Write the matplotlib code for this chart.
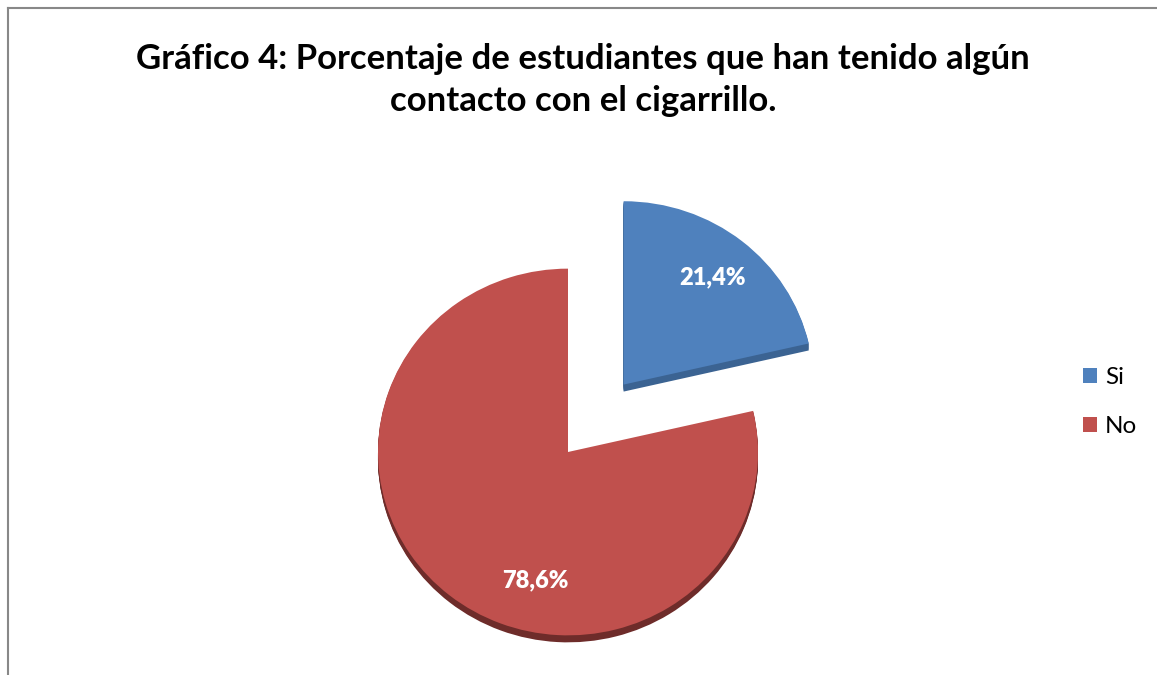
import matplotlib
matplotlib.use("Agg")
import matplotlib.pyplot as plt
import numpy as np

categories = ["Si", "No"]
values = [21.4, 78.6]
title = "Gráfico 4: Porcentaje de estudiantes que han tenido algún\ncontacto con el cigarrillo."
face_colors = ["#4f81bd", "#c0504d"]
side_colors = ["#3b6392", "#6e2c2a"]

plt.rcParams['font.family'] = ['Lato', 'DejaVu Sans']

W, H = 1157, 675
fig = plt.figure(figsize=(W / 100, H / 100), dpi=100)
ax = fig.add_axes([0, 0, 1, 1])

S = 0.965            # vertical squash (3D tilt)
R = 190
cx, cy = 568, (H - 452) / S
thick = 7
explode = [0.47 * R, 0.0]

def fmt(p):
    return f"{p:.1f}%".replace(".", ",")

# side (thickness) layers
for k in range(thick, 0, -1):
    ax.pie(values, colors=side_colors, startangle=90, counterclock=False,
           explode=explode, radius=R, center=(cx, cy - k / S),
           wedgeprops=dict(linewidth=0))

wedges, texts, autotexts = ax.pie(
    values, colors=face_colors, startangle=90, counterclock=False,
    explode=explode, radius=R, center=(cx, cy), autopct=fmt, pctdistance=0.75,
    wedgeprops=dict(linewidth=0),
    textprops=dict(color="white", fontsize=17, fontweight="heavy"))

# Excel-like placement of the large slice label
ang = np.deg2rad(194)
autotexts[1].set_position((cx + 0.72 * R * np.sin(ang), cy + 0.72 * R * np.cos(ang)))

ax.set_aspect('auto')
ax.set_xlim(0, W)
ax.set_ylim(0, H / S)
ax.axis('off')

fig.text(583 / W, 1 - 80 / H, title, ha='center', va='center', fontsize=25,
         fontweight='bold', color='black', linespacing=1.38)

leg = fig.legend(wedges, categories, loc='center left',
                 bbox_to_anchor=(1061 / W, 1 - 402 / H), frameon=False,
                 fontsize=17.5, handlelength=0.6, handleheight=0.6,
                 handletextpad=0.3, labelspacing=1.15)

# chart border (only top and left visible)
fig.add_artist(plt.Line2D([8 / W, 8 / W], [0, 1 - 8 / H], color='#888888', lw=1.5))
fig.add_artist(plt.Line2D([8 / W, 1], [1 - 8 / H, 1 - 8 / H], color='#888888', lw=1.5))

fig.savefig("out.png", dpi=100, facecolor='white')
